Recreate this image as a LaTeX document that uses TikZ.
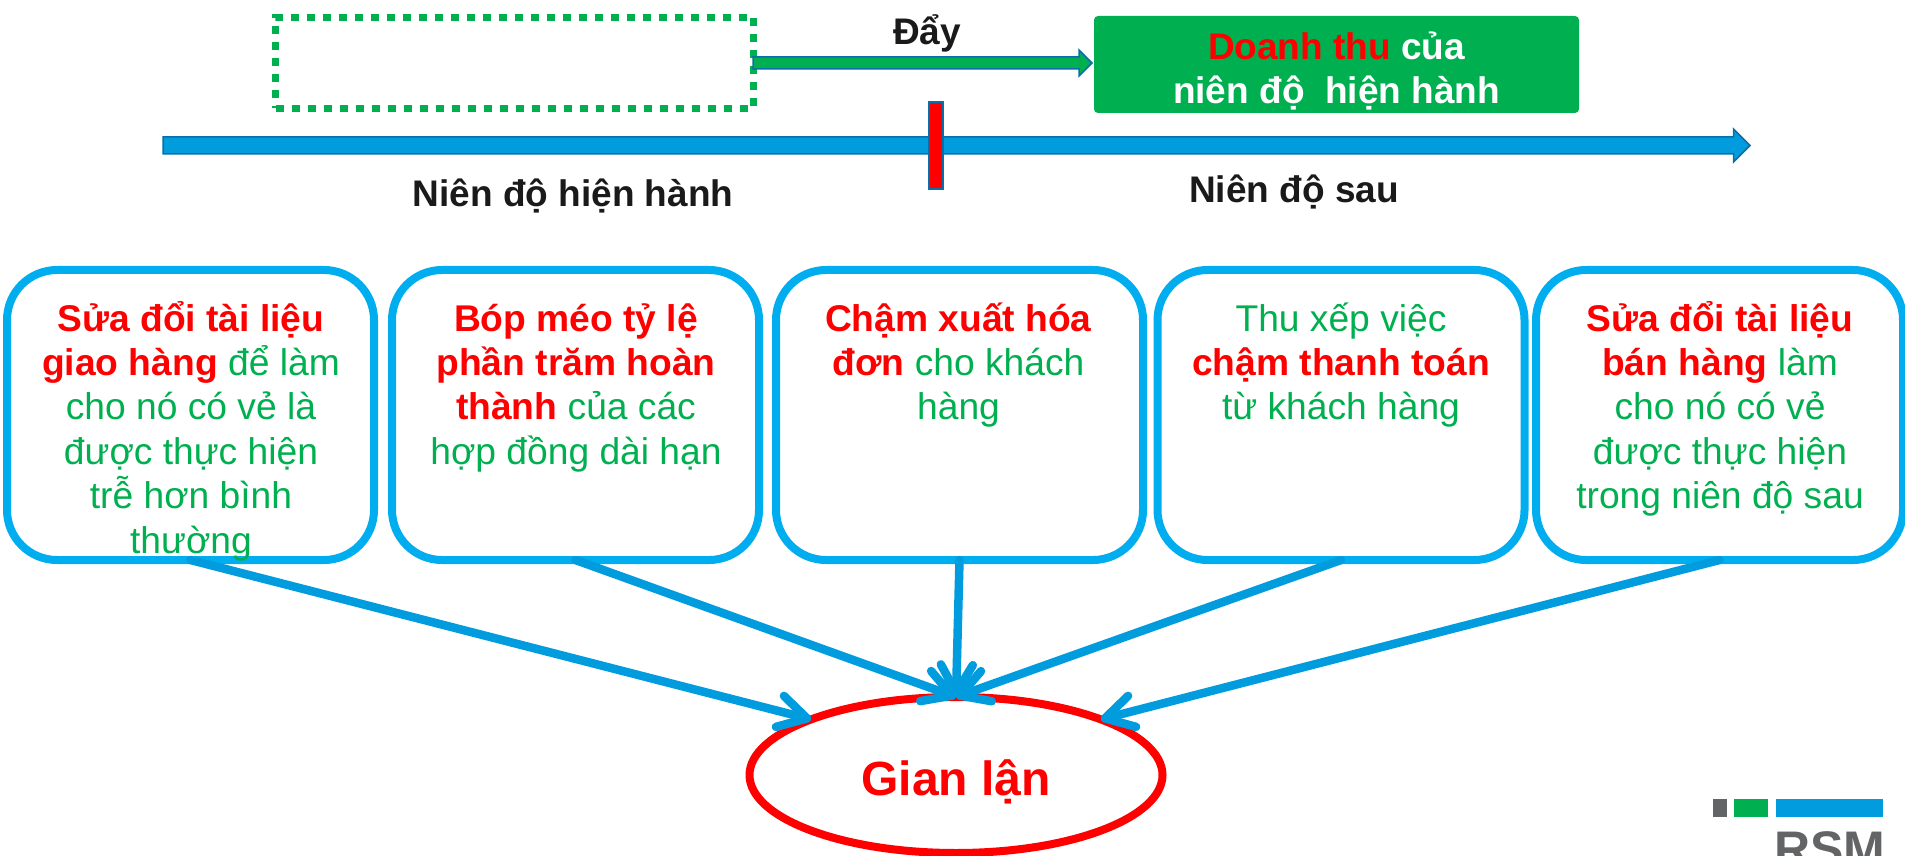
\documentclass[tikz,border=0pt]{standalone}
\usepackage{fontspec}
\setmainfont{Liberation Sans}
\usetikzlibrary{shapes.geometric, shapes.arrows, arrows.meta}
\definecolor{fraudred}{HTML}{FF0000}
\definecolor{rsmgreen}{HTML}{00B050}
\definecolor{rsmblue}{HTML}{009CDE}
\definecolor{darkblue}{HTML}{0A6EA8}
\definecolor{boxblue}{HTML}{00AEEF}
\definecolor{rsmgray}{HTML}{636466}
\definecolor{labelblack}{HTML}{1A1A1A}
\newcommand{\redbold}[1]{\textcolor{fraudred}{\textbf{#1}}}
\newcommand{\topline}{\rule{0pt}{40pt}}

\begin{document}
\begin{tikzpicture}
[every node/.style={inner sep=0pt, outer sep=0pt},
 fraudbox/.style={rectangle, rounded corners=50pt, minimum width=367pt, minimum height=290pt, line width=8pt, draw=boxblue, fill=white},
 fraudtext/.style={anchor=north, align=center, text=rsmgreen, font=\fontsize{37.2}{44.4}\selectfont},
 blacklabel/.style={text=labelblack, font=\fontsize{37}{43}\selectfont\bfseries},
 toarrow/.style={line width=8.5pt, color=rsmblue, line cap=round, -{Straight Barb[length=28pt, width=32pt, line width=8.5pt, round]}},
 logobar/.style={rectangle, anchor=north west, minimum height=18pt}]
\useasboundingbox (0pt, 0pt) rectangle (1905pt, -855.5pt);
\clip (0pt, 0pt) rectangle (1905pt, -855.5pt);
% top row
\node (shifted) [rectangle, minimum width=478pt, minimum height=91pt, line width=7pt, draw=rsmgreen, dash pattern=on 8pt off 8pt] at (514.5pt, -63pt) {};
\node (revenue) [rectangle, rounded corners=4pt, minimum width=485pt, minimum height=97pt, fill=rsmgreen, align=center, text=white, font=\fontsize{37}{44}\selectfont\bfseries] at (1336.5pt, -64.5pt) {\rule{0pt}{40pt}\textcolor{fraudred}{Doanh thu} của\\niên độ~~hiện hành};
\node (push) [single arrow, anchor=tail, inner ysep=5.25pt, minimum height=339pt, single arrow head extend=7pt, single arrow head indent=0pt, line width=1.5pt, draw=darkblue, fill=rsmgreen] at (753pt, -63pt) {};
\node (pushlabel) [blacklabel] at (927pt, -33pt) {Đẩy};
% timeline
\node (timeline) [single arrow, anchor=tail, inner ysep=7.75pt, minimum height=1587pt, single arrow head extend=8pt, single arrow head indent=0pt, line width=1.5pt, draw=darkblue, fill=rsmblue] at (163pt, -145.5pt) {};
\node (yearend) [rectangle, minimum width=14pt, minimum height=87pt, line width=1.5pt, draw=darkblue, fill=fraudred] at (936pt, -145.5pt) {};
\node (currentyear) [blacklabel] at (573pt, -196pt) {Niên độ hiện hành};
\node (nextyear) [blacklabel] at (1294pt, -192pt) {Niên độ sau};
% five boxes
\node (box1) [fraudbox] at (190.5pt, -415pt) {};
\node (box2) [fraudbox] at (575.5pt, -415pt) {};
\node (box3) [fraudbox] at (959.5pt, -415pt) {};
\node (box4) [fraudbox] at (1341pt, -415pt) {};
\node (box5) [fraudbox] at (1719.5pt, -415pt) {};
\node (text1) [fraudtext] at (191pt, -291pt) {\topline\redbold{Sửa đổi tài liệu}\\\redbold{giao hàng} để làm\\cho nó có vẻ là\\được thực hiện\\trễ hơn bình\\thường};
\node (text2) [fraudtext] at (576pt, -291pt) {\topline\redbold{Bóp méo tỷ lệ}\\\redbold{phần trăm hoàn}\\\redbold{thành} của các\\hợp đồng dài hạn};
\node (text3) [fraudtext] at (958.5pt, -291pt) {\topline\redbold{Chậm xuất hóa}\\\redbold{đơn} cho khách\\hàng};
\node (text4) [fraudtext] at (1341pt, -291pt) {\topline Thu xếp việc\\\redbold{chậm thanh toán}\\từ khách hàng};
\node (text5) [fraudtext] at (1720pt, -291pt) {\topline\redbold{Sửa đổi tài liệu}\\\redbold{bán hàng} làm\\cho nó có vẻ\\được thực hiện\\trong niên độ sau};
% fraud
\node (fraud) [ellipse, minimum width=413pt, minimum height=156pt, line width=8pt, draw=fraudred, fill=white, text=fraudred, font=\fontsize{48}{56}\selectfont\bfseries, text height=40pt, text depth=0pt] at (956pt, -775pt) {Gian lận};
\draw [toarrow] (box1.south) to (fraud.159);
\draw [toarrow] (box2.south) to (fraud.north);
\draw [toarrow] (box3.south) to (fraud.north);
\draw [toarrow] (box4.south) to (fraud.north);
\draw [toarrow] (box5.south) to (fraud.21);
% logo
\node (logogray) [logobar, minimum width=14pt, fill=rsmgray] at (1713pt, -799pt) {};
\node (logogreen) [logobar, minimum width=34pt, fill=rsmgreen] at (1734pt, -799pt) {};
\node (logoblue) [logobar, minimum width=107pt, fill=rsmblue] at (1776pt, -799pt) {};
\node (logotext) [anchor=base west, text=rsmgray, font=\fontsize{50}{56}\selectfont\bfseries] at (1774pt, -866pt) {RSM};
\end{tikzpicture}
\end{document}
